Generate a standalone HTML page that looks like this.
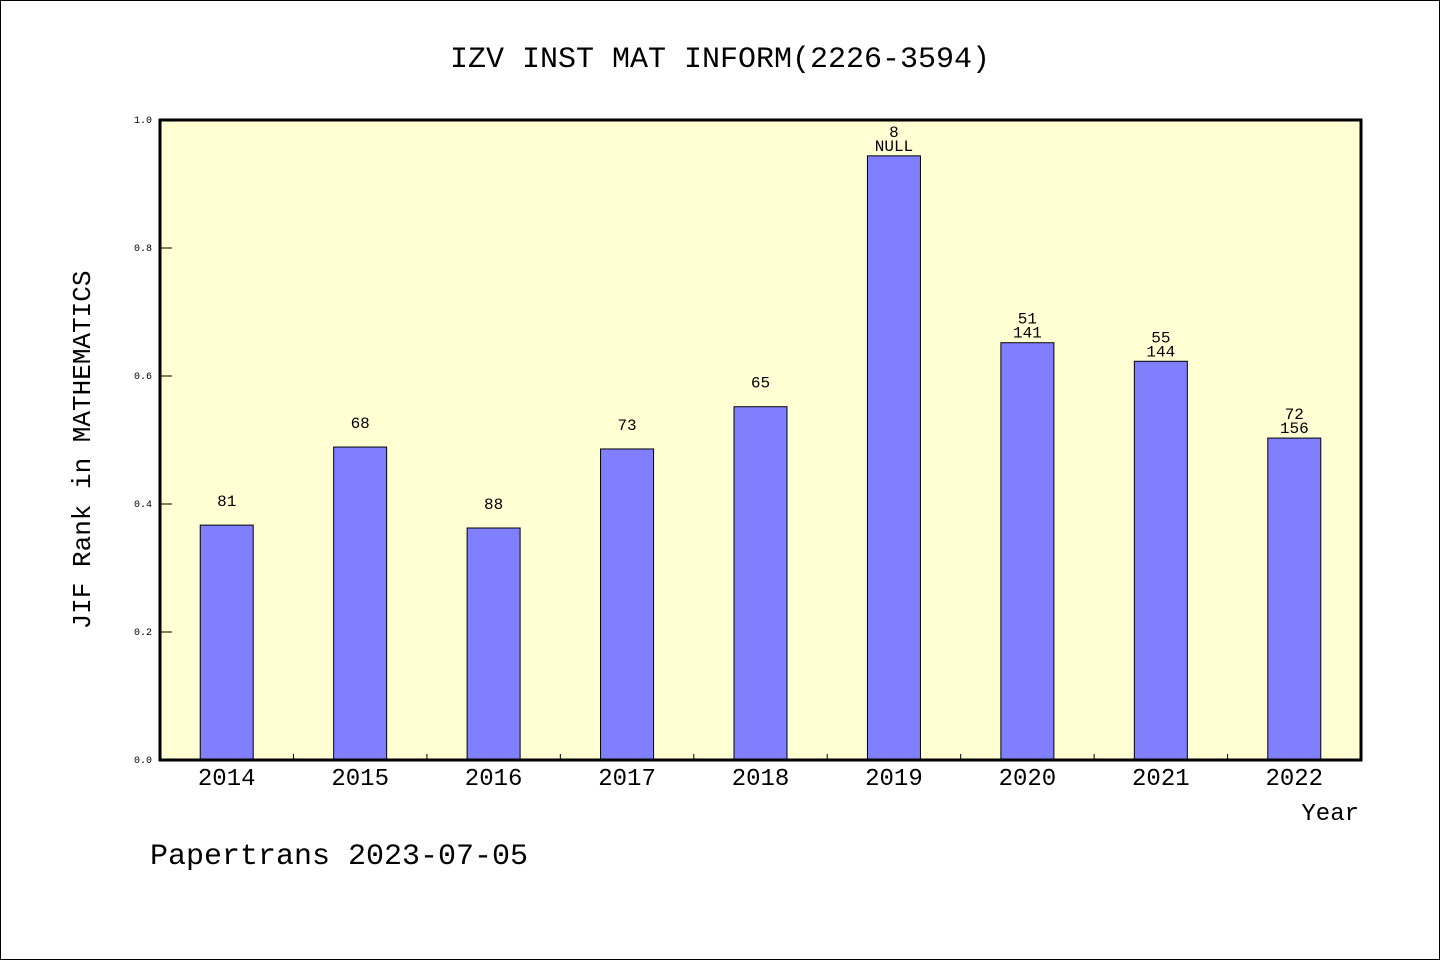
<!DOCTYPE html>
<html><head><meta charset="utf-8"><style>
body{margin:0;background:#fff}
svg text{font-family:"WenQuanYi Zen Hei","Liberation Mono",monospace}
</style></head><body>
<svg id="chart" width="1440" height="960" xmlns="http://www.w3.org/2000/svg">
<rect x="0.5" y="0.5" width="1439" height="959" fill="#fff" stroke="#000"/>
<text x="720" y="67" text-anchor="middle" font-size="30">IZV INST MAT INFORM(2226-3594)</text>
<rect x="160" y="120" width="1201" height="640" fill="#ffffd3"/>
<g id="bars"></g>
<g id="ticks"></g>
<rect x="160" y="120" width="1201" height="640" fill="none" stroke="#000" stroke-width="3"/>
<text transform="translate(90,450) rotate(-90)" text-anchor="middle" font-size="26">JIF Rank in MATHEMATICS</text>
<text x="1359" y="820" text-anchor="end" font-size="24">Year</text>
<text x="150" y="864" font-size="30">Papertrans 2023-07-05</text>
</svg>
<script>
const years=["2014","2015","2016","2017","2018","2019","2020","2021","2022"];
const values=[0.367,0.489,0.3625,0.486,0.552,0.944,0.652,0.623,0.503];
const labelTop=["81","68","88","73","65","8","51","55","72"];
const labelBottom=["","","","","","NULL","141","144","156"];
const yTicks=[0,0.2,0.4,0.6,0.8,1.0];
const X0=160,W=1201,Y0=760,H=640,NS="http://www.w3.org/2000/svg";
const step=W/years.length;
const xc=i=>X0+step*(i+0.5);
const ys=v=>Y0-v*H;
function mk(t,a,p){const e=document.createElementNS(NS,t);for(const k in a)e.setAttribute(k,a[k]);p.appendChild(e);return e;}
const bg=document.getElementById('bars'),tg=document.getElementById('ticks');
years.forEach((y,i)=>{
 const top=ys(values[i]);
 const r=mk('rect',{x:xc(i)-26.5,y:top,width:53,height:Y0-top,fill:'#8080ff',stroke:'#000','stroke-width':1},bg);
 
 
 if(labelBottom[i]){
  const a=mk('text',{x:xc(i),y:top-19,'text-anchor':'middle','font-size':16},bg);a.textContent=labelTop[i];
  
  
  const b=mk('text',{x:xc(i),y:top-5,'text-anchor':'middle','font-size':16},bg);b.textContent=labelBottom[i];
  
  
 }else{
  const a=mk('text',{x:xc(i),y:top-19,'text-anchor':'middle','font-size':16},bg);a.textContent=labelTop[i];
  
  
 }
 const t=mk('text',{x:xc(i),y:785,'text-anchor':'middle','font-size':24},tg);t.textContent=y;
 
 
 if(i>0){const l=mk('line',{x1:X0+step*i,x2:X0+step*i,y1:Y0,y2:Y0-6,stroke:'#000'},tg);
 
 }
});
yTicks.forEach(v=>{
 const y=ys(v);
 const l=mk('line',{x1:X0,x2:X0+12,y1:y,y2:y,stroke:'#000'},tg);
 
 
 const t=mk('text',{x:152,y:y+3,'text-anchor':'end','font-size':10},tg);t.textContent=v.toFixed(1);
 
 
});
</script>
</body></html>
